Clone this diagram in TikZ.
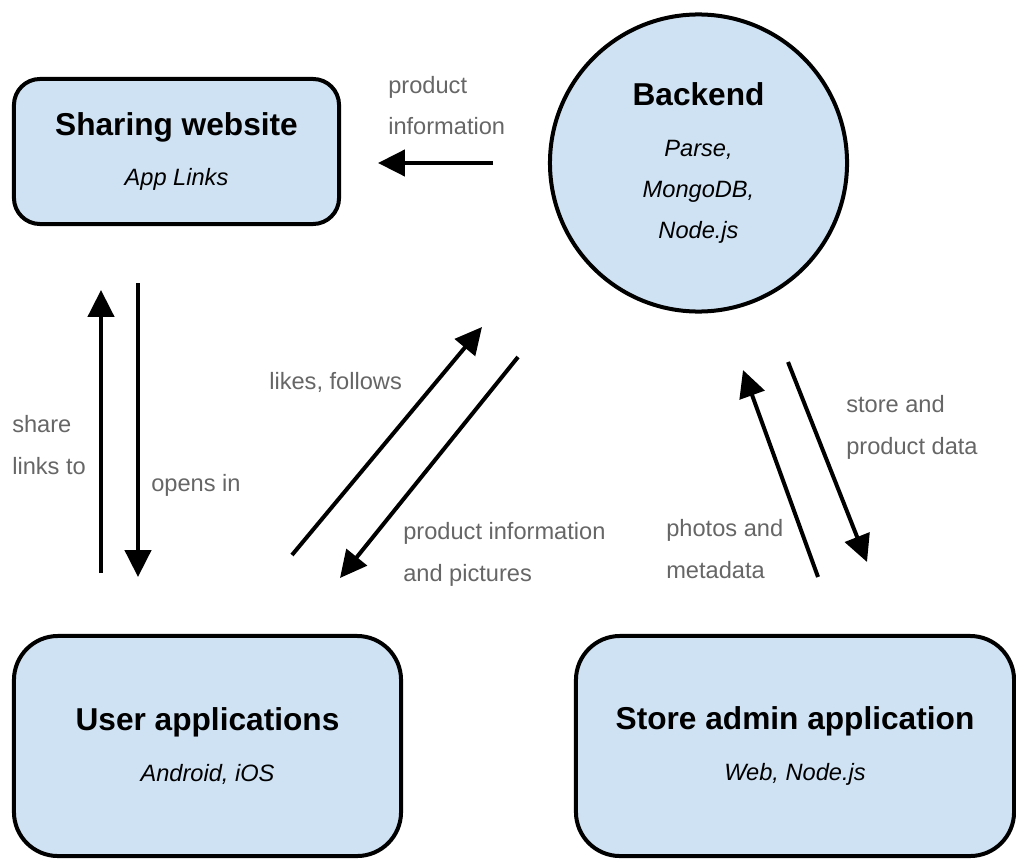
\documentclass[tikz,border=0pt]{standalone}
\usepackage{fontspec}
\setmainfont{Liberation Sans}
\usetikzlibrary{arrows.meta,positioning,shapes.geometric}
\definecolor{boxblue}{RGB}{207,226,243}
\definecolor{lblgray}{RGB}{102,102,102}
\newcommand{\boxtitle}[1]{{\normalfont\fontsize{22.5pt}{29pt}\selectfont\bfseries #1}}
\tikzset{
  basebox/.style={rectangle,draw=black,line width=0.1cm,fill=boxblue,align=center,
    font=\fontsize{16.8pt}{29.2pt}\selectfont\itshape,inner sep=0pt},
  sharenode/.style={basebox,rounded corners=0.65cm,minimum width=8.125cm,minimum height=3.625cm},
  appnode/.style={basebox,rounded corners=1.1cm,minimum height=5.5cm},
  backnode/.style={basebox,circle,minimum size=7.425cm},
  lbl/.style={anchor=base west,align=left,text=lblgray,inner sep=0pt,
    font=\fontsize{16.8pt}{29.2pt}\selectfont},
  arr/.style={-{Triangle[length=0.67cm,width=0.65cm]},line width=0.1cm}
}
\begin{document}
\begin{tikzpicture}[x=0.025cm,y=-0.025cm]
  \useasboundingbox (0,0) rectangle (1016,860);
  % components
  \node[sharenode] (share) at (176.5,151.5) {\boxtitle{Sharing website}\\[7pt]App Links};
  \node[backnode] (backend) at (698.5,163) {\boxtitle{Backend}\\[7.5pt]Parse,\\MongoDB,\\Node.js};
  \node[appnode,minimum width=9.675cm] (user) at (207.5,746) {\boxtitle{User applications}\\[7pt]Android, iOS};
  \node[appnode,minimum width=10.95cm] (store) at (795,746) {\boxtitle{Store admin application}\\[7pt]Web, Node.js};

  % arrow ends
  \coordinate (piA) at (493,163);  \coordinate (piB) at (378,163);
  \coordinate (shA) at (101,573);  \coordinate (shB) at (101,290);
  \coordinate (opA) at (138,283);  \coordinate (opB) at (138,577);
  \coordinate (lkA) at (292,555);  \coordinate (lkB) at (482,327);
  \coordinate (ppA) at (518,357);  \coordinate (ppB) at (340,578);
  \coordinate (phA) at (818,577);  \coordinate (phB) at (743,370);
  \coordinate (sdA) at (788,362);  \coordinate (sdB) at (867,562);

  \draw[arr] (piA) -- (piB);
  \draw[arr] (shA) -- (shB);
  \draw[arr] (opA) -- (opB);
  \draw[arr] (lkA) -- (lkB);
  \draw[arr] (ppA) -- (ppB);
  \draw[arr] (phA) -- (phB);
  \draw[arr] (sdA) -- (sdB);

  % labels (base = last line)
  \node[lbl] (lprod) at (388,135) {product\\information};
  \node[lbl] (lshare) at (12,474) {share\\links to};
  \node[lbl] (lopen) at (151,491) {opens in};
  \node[lbl] (llike) at (269,389) {likes, follows};
  \node[lbl] (lpict) at (403,581) {product information\\and pictures};
  \node[lbl] (lphoto) at (666,578) {photos and\\metadata};
  \node[lbl] (lstore) at (846,454) {store and\\product data};
\end{tikzpicture}
\end{document}
